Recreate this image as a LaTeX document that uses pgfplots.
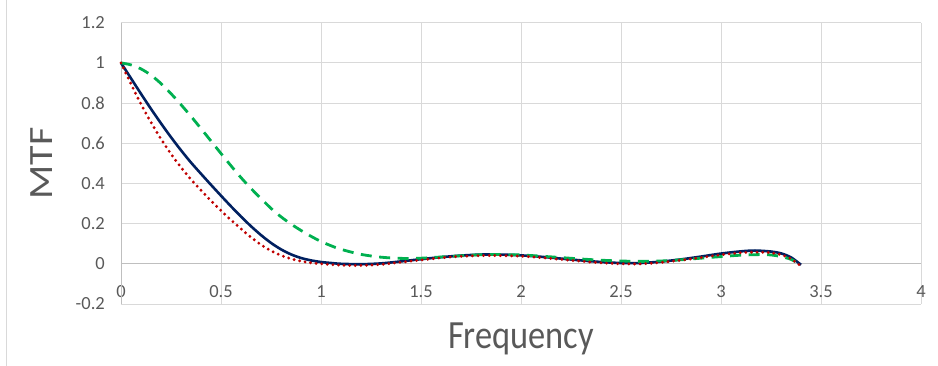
\documentclass[border=0pt]{standalone}
\usepackage{pgfplots}
\pgfplotsset{compat=1.18}
\usepackage{fontspec}
\setmainfont{Carlito}
\definecolor{txt}{HTML}{595959}
\definecolor{gridc}{HTML}{D9D9D9}
\definecolor{zeroc}{HTML}{BFBFBF}
\definecolor{navy}{HTML}{002060}
\definecolor{dred}{HTML}{C00000}
\definecolor{xgreen}{HTML}{00B050}
\begin{document}
\begin{tikzpicture}
\useasboundingbox (0,0) rectangle (938pt,366pt);
\draw[gridc, line width=0.8pt] (6.7pt,0pt) -- (6.7pt,366pt);
\begin{axis}[
  at={(121pt,62pt)}, anchor=south west,
  scale only axis, width=800pt, height=281.3pt,
  xmin=0, xmax=4, ymin=-0.2, ymax=1.2,
  xtick={0,0.5,1,1.5,2,2.5,3,3.5,4},
  xticklabels={0,0.5,1,1.5,2,2.5,3,3.5,4},
  ytick={-0.2,0,0.2,0.4,0.6,0.8,1,1.2},
  yticklabels={-0.2,0,0.2,0.4,0.6,0.8,1,1.2},
  grid=major, grid style={gridc, line width=0.8pt},
  axis line style={draw=none}, major tick length=0pt,
  tick label style={font=\fontsize{18.5}{20}\selectfont, text=txt},
  yticklabel style={anchor=east, inner sep=0pt, xshift=-16pt},
  xticklabel style={anchor=center, inner sep=0pt, yshift=12.3pt},
  xlabel={\scalebox{0.86}[1]{\fontsize{40}{44}\selectfont Frequency}},
  xlabel style={at={(axis description cs:0.5,-0.1575)}, anchor=base, text=txt, inner sep=0pt},
  ylabel={\scalebox{1}[0.85]{\fontsize{40}{44}\selectfont MTF}},
  ylabel style={at={(axis description cs:-0.086,0.5)}, anchor=base, text=txt, inner sep=0pt},
  clip=false,
]
\draw[zeroc, line width=0.8pt] (axis cs:0,0) -- (axis cs:4,0);
\draw[zeroc, line width=0.8pt] (axis cs:0,-0.2) -- (axis cs:0,1.2);
% blue solid
\addplot[navy, line width=2.6pt, smooth] coordinates {
(0,1.0) (0.05,0.923) (0.1,0.846) (0.15,0.771) (0.2,0.699) (0.25,0.63) (0.3,0.565)
(0.35,0.504) (0.4,0.448) (0.45,0.393) (0.5,0.339) (0.55,0.286) (0.6,0.235) (0.65,0.187)
(0.7,0.143) (0.75,0.104) (0.8,0.072) (0.85,0.047) (0.9,0.029) (0.95,0.017) (1.0,0.009)
(1.05,0.004) (1.1,0.0) (1.2,-0.002) (1.3,0.002) (1.4,0.012) (1.5,0.023) (1.6,0.033)
(1.7,0.041) (1.8,0.046) (1.9,0.046) (2.0,0.042) (2.1,0.035) (2.2,0.026) (2.3,0.017)
(2.4,0.009) (2.5,0.004) (2.6,0.004) (2.7,0.011) (2.8,0.022) (2.9,0.036) (3.0,0.051)
(3.1,0.062) (3.17,0.066) (3.25,0.061) (3.3,0.052) (3.35,0.032) (3.4,-0.005)
};
% green dashed
\addplot[xgreen, line width=2.8pt, dash pattern=on 11pt off 7.5pt, smooth] coordinates {
(0,1.0) (0.05,0.99) (0.1,0.97) (0.15,0.939) (0.2,0.897) (0.25,0.847) (0.3,0.792)
(0.35,0.734) (0.4,0.673) (0.45,0.611) (0.5,0.549) (0.55,0.488) (0.6,0.429) (0.65,0.375)
(0.7,0.325) (0.75,0.276) (0.8,0.234) (0.85,0.198) (0.9,0.166) (0.95,0.137) (1.0,0.111)
(1.05,0.09) (1.1,0.072) (1.2,0.047) (1.3,0.033) (1.4,0.027) (1.5,0.028) (1.6,0.034)
(1.7,0.04) (1.8,0.045) (1.9,0.046) (2.0,0.044) (2.1,0.038) (2.2,0.031) (2.3,0.024)
(2.4,0.018) (2.5,0.014) (2.6,0.012) (2.7,0.014) (2.8,0.02) (2.9,0.028) (3.0,0.036)
(3.1,0.043) (3.2,0.046) (3.25,0.044) (3.3,0.036) (3.35,0.022) (3.4,-0.005)
};
% red dotted
\addplot[dred, line width=3.2pt, line cap=round, dash pattern=on 0pt off 5.6pt, smooth] coordinates {
(0,1.0) (0.05,0.895) (0.1,0.795) (0.15,0.704) (0.2,0.621) (0.25,0.547) (0.3,0.48)
(0.35,0.42) (0.4,0.366) (0.45,0.314) (0.5,0.265) (0.55,0.218) (0.6,0.174) (0.65,0.132)
(0.7,0.095) (0.75,0.065) (0.8,0.042) (0.85,0.025) (0.9,0.013) (0.95,0.005) (1.0,0.0)
(1.1,-0.007) (1.2,-0.008) (1.3,-0.003) (1.4,0.008) (1.5,0.019) (1.6,0.03) (1.7,0.037)
(1.8,0.041) (1.9,0.041) (2.0,0.038) (2.1,0.031) (2.2,0.022) (2.3,0.013) (2.4,0.005)
(2.5,0.0) (2.6,0.0) (2.7,0.007) (2.8,0.018) (2.9,0.031) (3.0,0.045) (3.1,0.055)
(3.18,0.058) (3.25,0.055) (3.3,0.045) (3.35,0.025) (3.4,-0.012)
};
\end{axis}
\end{tikzpicture}
\end{document}
